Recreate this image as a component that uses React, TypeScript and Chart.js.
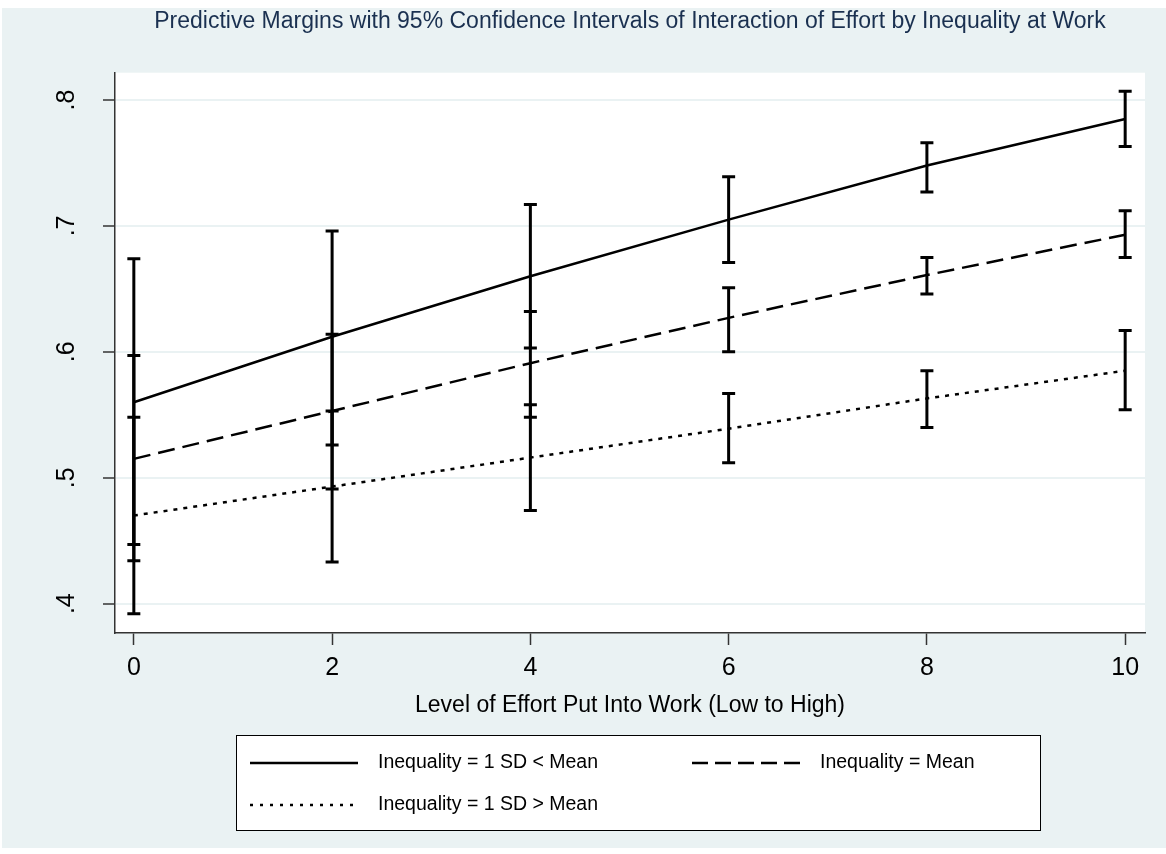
import React, { useEffect, useRef } from "react";
import { Chart, registerables } from "chart.js";

Chart.register(...registerables);

// ---------- data ----------
const EFFORT = [0, 2, 4, 6, 8, 10];

const LOW_MEAN = [0.56, 0.612, 0.66, 0.705, 0.748, 0.785];
const LOW_LO = [0.447, 0.526, 0.603, 0.671, 0.727, 0.763];
const LOW_HI = [0.674, 0.696, 0.717, 0.739, 0.766, 0.807];

const MID_MEAN = [0.515, 0.553, 0.591, 0.627, 0.661, 0.693];
const MID_LO = [0.434, 0.491, 0.548, 0.6, 0.646, 0.675];
const MID_HI = [0.597, 0.614, 0.632, 0.651, 0.675, 0.712];

const HIGH_MEAN = [0.47, 0.493, 0.516, 0.539, 0.563, 0.585];
const HIGH_LO = [0.392, 0.433, 0.474, 0.512, 0.54, 0.554];
const HIGH_HI = [0.548, 0.553, 0.558, 0.567, 0.585, 0.617];

const SERIES_LABELS = [
  "Inequality = 1 SD < Mean",
  "Inequality = Mean",
  "Inequality = 1 SD > Mean",
];

const X_TICKS = [0, 2, 4, 6, 8, 10];
const Y_TICKS = [0.4, 0.5, 0.6, 0.7, 0.8];
const Y_TICK_LABELS = [".4", ".5", ".6", ".7", ".8"];

const TITLE =
  "Predictive Margins with 95% Confidence Intervals of Interaction of Effort by Inequality at Work";
const X_TITLE = "Level of Effort Put Into Work (Low to High)";

// ---------- styling ----------
const FONT = "'Liberation Sans', Arial, Helvetica, sans-serif";
const BG = "#eaf2f3";
const AXIS = "#333333";
const CANVAS_W = 1164;
const CANVAS_H = 840;

const toPoints = (ys: number[]) => EFFORT.map((x, i) => ({ x, y: ys[i] }));

const backgroundPlugin = {
  id: "bgPlugin",
  beforeDraw(chart: any) {
    const { ctx, chartArea } = chart;
    ctx.save();
    ctx.fillStyle = BG;
    ctx.fillRect(0, 0, chart.width, chart.height);
    ctx.fillStyle = "#ffffff";
    ctx.fillRect(
      chartArea.left,
      chartArea.top,
      chartArea.right - chartArea.left,
      chartArea.bottom - chartArea.top
    );
    ctx.restore();
  },
};

const errorBarPlugin = {
  id: "errorBars",
  afterDatasetsDraw(chart: any) {
    const { ctx, scales } = chart;
    const xs = scales.x;
    const ys = scales.y;
    ctx.save();
    ctx.strokeStyle = "#000";
    ctx.lineWidth = 3;
    ctx.setLineDash([]);
    ctx.lineCap = "butt";
    chart.data.datasets.forEach((ds: any) => {
      const lo: number[] = ds.ciLow;
      const hi: number[] = ds.ciHigh;
      EFFORT.forEach((xv, i) => {
        const px = xs.getPixelForValue(xv);
        const pl = ys.getPixelForValue(lo[i]);
        const ph = ys.getPixelForValue(hi[i]);
        ctx.beginPath();
        ctx.moveTo(px, pl);
        ctx.lineTo(px, ph);
        ctx.moveTo(px - 6.5, pl);
        ctx.lineTo(px + 6.5, pl);
        ctx.moveTo(px - 6.5, ph);
        ctx.lineTo(px + 6.5, ph);
        ctx.stroke();
      });
    });
    ctx.restore();
  },
};

const legendBoxPlugin = {
  id: "legendBox",
  afterDraw(chart: any) {
    const { ctx } = chart;
    const datasets = chart.data.datasets;
    ctx.save();
    ctx.fillStyle = "#ffffff";
    ctx.fillRect(234, 727, 804, 95);
    ctx.strokeStyle = "#000";
    ctx.lineWidth = 1;
    ctx.strokeRect(234.5, 727.5, 804, 95);
    const slots = [
      [248, 755],
      [690, 755],
      [248, 797],
    ];
    datasets.forEach((d: any, i: number) => {
      const [sx, sy] = slots[i];
      ctx.beginPath();
      ctx.setLineDash(d.legendDash || []);
      ctx.lineWidth = 2.5;
      ctx.strokeStyle = "#000";
      ctx.moveTo(sx, sy);
      ctx.lineTo(sx + 108, sy);
      ctx.stroke();
      ctx.setLineDash([]);
      ctx.fillStyle = "#000";
      ctx.font = `19.5px ${FONT}`;
      ctx.textBaseline = "middle";
      ctx.textAlign = "left";
      ctx.fillText(d.label, sx + 128, sy);
    });
    ctx.restore();
  },
};

export default function App() {
  const canvasRef = useRef<HTMLCanvasElement | null>(null);

  useEffect(() => {
    document.body.style.margin = "0";
    const canvas = canvasRef.current;
    if (!canvas) return;

    const chart = new Chart(canvas, {
      type: "line",
      data: {
        datasets: [
          {
            label: SERIES_LABELS[0],
            data: toPoints(LOW_MEAN),
            ciLow: LOW_LO,
            ciHigh: LOW_HI,
            borderColor: "#000",
            borderWidth: 2.5,
            pointRadius: 0,
            tension: 0,
            legendDash: [],
          } as any,
          {
            label: SERIES_LABELS[1],
            data: toPoints(MID_MEAN),
            ciLow: MID_LO,
            ciHigh: MID_HI,
            borderColor: "#000",
            borderWidth: 2.5,
            borderDash: [17, 8],
            pointRadius: 0,
            tension: 0,
            legendDash: [16, 7],
          } as any,
          {
            label: SERIES_LABELS[2],
            data: toPoints(HIGH_MEAN),
            ciLow: HIGH_LO,
            ciHigh: HIGH_HI,
            borderColor: "#000",
            borderWidth: 2.5,
            borderDash: [4, 6],
            pointRadius: 0,
            tension: 0,
            legendDash: [3, 7],
          } as any,
        ],
      },
      options: {
        responsive: false,
        animation: false,
        devicePixelRatio: 1,
        layout: { padding: { left: 0, right: 21, top: 0, bottom: 0 } },
        plugins: {
          legend: { display: false },
          tooltip: { enabled: false },
          title: {
            display: true,
            fullSize: false,
            text: TITLE,
            color: "#1a3050",
            font: { family: FONT, size: 23, weight: "normal" },
            padding: { top: 0, bottom: 37.1 },
          },
        },
        scales: {
          x: {
            type: "linear",
            min: -0.19,
            max: 10.2,
            afterBuildTicks: (s: any) => {
              s.ticks = X_TICKS.map((v) => ({ value: v }));
            },
            afterFit: (s: any) => {
              s.height = 215;
            },
            ticks: {
              callback: (v: any) => String(v),
              color: "#000",
              font: { family: FONT, size: 25 },
              padding: 8,
              maxRotation: 0,
              autoSkip: false,
            },
            grid: {
              display: true,
              drawOnChartArea: false,
              drawTicks: true,
              tickLength: 12,
              tickColor: AXIS,
              tickWidth: 1.5,
            },
            border: { display: true, color: AXIS, width: 1.5 },
            title: {
              display: true,
              text: X_TITLE,
              color: "#000",
              font: { family: FONT, size: 23 },
              padding: { top: 0, bottom: 129 },
            },
          },
          y: {
            type: "linear",
            min: 0.3767,
            max: 0.8217,
            afterBuildTicks: (s: any) => {
              s.ticks = Y_TICKS.map((v) => ({ value: v }));
            },
            afterFit: (s: any) => {
              s.width = 113;
            },
            ticks: {
              callback: (v: any) => Y_TICK_LABELS[Y_TICKS.indexOf(v)] ?? "",
              color: "#000",
              font: { family: FONT, size: 25 },
              minRotation: 90,
              maxRotation: 90,
              crossAlign: "center",
              padding: 25,
              autoSkip: false,
            },
            grid: {
              color: BG,
              lineWidth: 2,
              drawTicks: true,
              tickLength: 12,
              tickColor: AXIS,
              tickWidth: 1.5,
            },
            border: { display: true, color: AXIS, width: 1.5 },
          },
        },
      } as any,
      plugins: [backgroundPlugin, errorBarPlugin, legendBoxPlugin],
    });

    return () => chart.destroy();
  }, []);

  return (
    <div style={{ padding: "8px 0 0 2px", background: "#ffffff" }}>
      <canvas
        ref={canvasRef}
        width={CANVAS_W}
        height={CANVAS_H}
        style={{ width: CANVAS_W, height: CANVAS_H, display: "block" }}
      />
    </div>
  );
}
